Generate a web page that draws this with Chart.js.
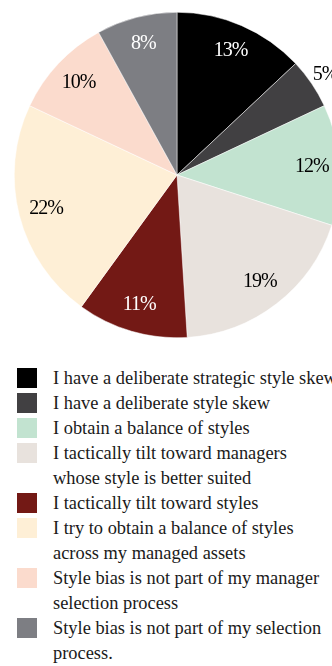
<!DOCTYPE html>
<html>
<head>
<meta charset="utf-8">
<script src="https://cdn.jsdelivr.net/npm/chart.js@4/dist/chart.umd.min.js"></script>
<style>
  html, body { margin: 0; padding: 0; background: #fff; overflow: hidden; width: 332px; height: 666px; }
  #wrap { position: absolute; left: 0; top: 0; width: 354px; height: 350px; }
  #legend { position: absolute; left: 0; top: 366px; width: 420px; font-family: "Liberation Serif", serif; font-size: 18.4px; color: #1a1a1a; }
  #legend ul { list-style: none; margin: 0; padding: 0; }
  #legend li { position: relative; padding-left: 53px; line-height: 25px; white-space: nowrap; }
  #legend li span.box { position: absolute; left: 17px; top: 2px; width: 20px; height: 20px; }
</style>
</head>
<body>
<div id="wrap"><canvas id="styleChart" width="354" height="350"></canvas></div>
<div id="legend"></div>
<script>
const labels = [
  ["I have a deliberate strategic style skew"],
  ["I have a deliberate style skew"],
  ["I obtain a balance of styles"],
  ["I tactically tilt toward managers", "whose style is better suited"],
  ["I tactically tilt toward styles"],
  ["I try to obtain a balance of styles", "across my managed assets"],
  ["Style bias is not part of my manager", "selection process"],
  ["Style bias is not part of my selection", "process."]
];
const shares = [13, 5, 12, 19, 11, 22, 10, 8];
const colors = ["#000000", "#414042", "#c2e3d0", "#e8e2dd", "#731915", "#feefd6", "#fbdbcd", "#7d7e83"];
const textColors = ["#fff", "#000", "#000", "#000", "#fff", "#000", "#000", "#fff"];

// percentage text on each slice; small slices get pushed outside the rim
const sliceLabels = {
  id: "sliceLabels",
  afterDatasetsDraw(chart) {
    const ctx = chart.ctx;
    const meta = chart.getDatasetMeta(0);
    ctx.save();
    ctx.font = '20px "Liberation Serif", serif';
    ctx.letterSpacing = "-1px";
    ctx.textAlign = "center";
    ctx.textBaseline = "middle";
    meta.data.forEach((arc, i) => {
      const mid = (arc.startAngle + arc.endAngle) / 2;
      const outside = shares[i] < 7;
      const dist = arc.outerRadius * (outside ? 1.1 : 0.83);
      const x = arc.x + Math.cos(mid) * dist;
      const y = arc.y + Math.sin(mid) * dist;
      ctx.fillStyle = outside ? "#000" : textColors[i];
      ctx.fillText(shares[i] + "%", x, y);
    });
    ctx.restore();
  }
};

// legend written out as html so the long labels can break over two lines
const htmlLegend = {
  id: "htmlLegend",
  afterUpdate(chart) {
    const box = document.getElementById("legend");
    const ul = document.createElement("ul");
    chart.data.labels.forEach((lines, i) => {
      const li = document.createElement("li");
      const sw = document.createElement("span");
      sw.className = "box";
      sw.style.background = chart.data.datasets[0].backgroundColor[i];
      li.appendChild(sw);
      lines.forEach((t, j) => {
        if (j > 0) li.appendChild(document.createElement("br"));
        li.appendChild(document.createTextNode(t));
      });
      ul.appendChild(li);
    });
    box.innerHTML = "";
    box.appendChild(ul);
  }
};

const ctx = document.getElementById("styleChart").getContext("2d");
new Chart(ctx, {
  type: "pie",
  data: {
    labels,
    datasets: [{
      data: shares,
      backgroundColor: colors,
      borderColor: "#ffffff",
      borderWidth: 0.5
    }]
  },
  options: {
    responsive: false,
    animation: false,
    layout: { padding: { left: 14, right: 14, top: 12, bottom: 12 } },
    plugins: {
      legend: { display: false },
      tooltip: { enabled: false }
    }
  },
  plugins: [sliceLabels, htmlLegend]
});
</script>
</body>
</html>
